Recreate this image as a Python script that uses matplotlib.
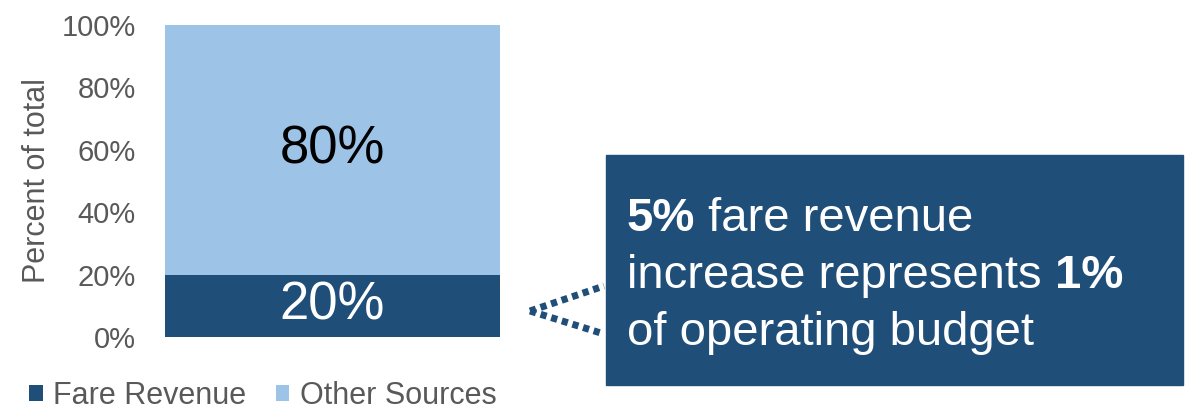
import matplotlib
matplotlib.use("Agg")
import matplotlib.pyplot as plt
from matplotlib.patches import Rectangle
from matplotlib.lines import Line2D

plt.rcParams['font.family'] = ['Liberation Sans', 'DejaVu Sans']

categories = ["Budget"]
series_names = ["Fare Revenue", "Other Sources"]
fare_revenue = [20]
other_sources = [80]
yticks = [0, 20, 40, 60, 80, 100]
ytick_labels = ["0%", "20%", "40%", "60%", "80%", "100%"]

dark_blue = "#1F4E79"
light_blue = "#9DC3E6"
gray = "#595959"

W, H = 1189, 411
fig = plt.figure(figsize=(W / 100, H / 100), dpi=100)

ax = fig.add_axes([165 / W, (H - 337) / H, 335 / W, 312 / H])
x = list(range(len(categories)))
b1 = ax.bar(x, fare_revenue, width=1.0, color=dark_blue, label=series_names[0])
b2 = ax.bar(x, other_sources, width=1.0, bottom=fare_revenue, color=light_blue,
            label=series_names[1])
ax.set_xlim(-0.5, 0.5)
ax.set_ylim(0, 100)
ax.set_yticks(yticks)
ax.set_yticklabels(ytick_labels)
ax.set_xticks([])
ax.tick_params(axis='y', length=0, pad=21, labelsize=21, labelcolor=gray)
for s in ax.spines.values():
    s.set_visible(False)
ax.set_ylabel("Percent of total", fontsize=22, color=gray)
ax.yaxis.set_label_coords(-0.338, 0.5)

for xi, v in zip(x, fare_revenue):
    ax.text(xi, v / 2, f"{v}%", ha='center', va='center', fontsize=38, color='white')
for xi, b, v in zip(x, fare_revenue, other_sources):
    ax.text(xi, b + v / 2, f"{v}%", ha='center', va='center', fontsize=38, color='black')

leg = fig.legend(handles=[b1, b2], labels=series_names, loc='center left',
                 bbox_to_anchor=(29 / W, 1 - 396 / H), ncol=2, frameon=False,
                 fontsize=22, handlelength=0.45, handleheight=0.45, handletextpad=0.35,
                 columnspacing=0.95, labelcolor=gray, borderaxespad=0, borderpad=0)

# callout box
fig.patches.append(Rectangle((606 / W, 1 - 385 / H), (1183 - 606) / W, (385 - 155) / H,
                             transform=fig.transFigure, color=dark_blue, zorder=1))

# dotted connector lines
for y_end in (286, 334):
    fig.add_artist(Line2D([530 / W, 604 / W], [1 - 311 / H, 1 - y_end / H],
                          transform=fig.transFigure, color=dark_blue, lw=5,
                          linestyle=(0, (0.9, 0.7)), solid_capstyle='butt',
                          dash_capstyle='butt'))

lines = [[("5%", "bold"), (" fare revenue", "normal")],
         [("increase represents ", "normal"), ("1%", "bold")],
         [("of operating budget", "normal")]]
baselines = [231, 288, 345]
fig.canvas.draw()
renderer = fig.canvas.get_renderer()
for parts, yb in zip(lines, baselines):
    xpos = 627
    for txt, wt in parts:
        t = fig.text(xpos / W, 1 - yb / H, txt, fontsize=34, fontweight=wt,
                     color='white', ha='left', va='baseline', zorder=3)
        bb = t.get_window_extent(renderer)
        xpos += bb.width

fig.savefig("out.png", dpi=100)
